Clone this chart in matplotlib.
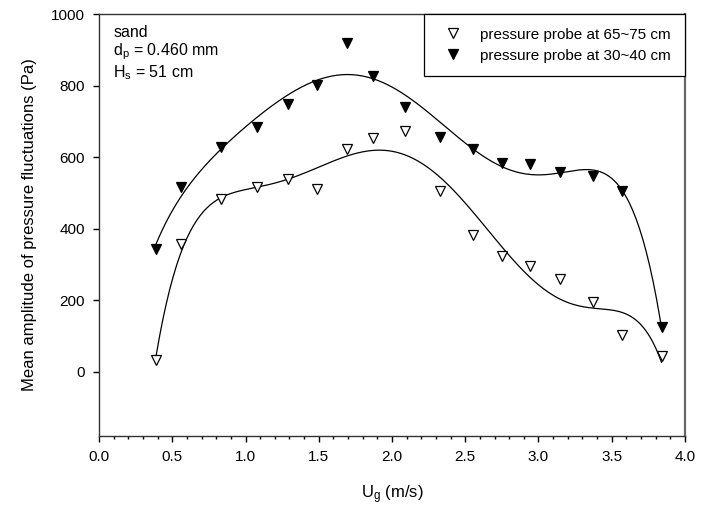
import numpy as np
import matplotlib.pyplot as plt
from matplotlib.ticker import MultipleLocator

plt.rcParams['font.family'] = ['Liberation Sans', 'DejaVu Sans']
plt.rcParams['mathtext.fontset'] = 'custom'
plt.rcParams['mathtext.rm'] = 'Liberation Sans'
plt.rcParams['mathtext.it'] = 'Liberation Sans:italic'

# gas velocity (m/s)
ug = [0.39, 0.56, 0.83, 1.08, 1.29, 1.49, 1.69, 1.87, 2.09, 2.33,
      2.55, 2.75, 2.94, 3.15, 3.37, 3.57, 3.84]
# mean amplitude (Pa), probe at 65~75 cm
amp_high = [33, 356, 483, 516, 538, 511, 623, 653, 674, 505,
            382, 322, 294, 258, 196, 103, 44]
# mean amplitude (Pa), probe at 30~40 cm
amp_low = [343, 517, 627, 685, 748, 801, 919, 827, 740, 657,
           623, 583, 581, 557, 548, 505, 126]

fit_deg = 6

def poly_curve(x, y, deg):
    c = np.polyfit(x, y, deg)
    xs = np.linspace(min(x), max(x), 300)
    return xs, np.polyval(c, xs)

fig = plt.figure(figsize=(7.13, 5.15), dpi=100)
ax = fig.add_axes([0.1389, 0.1534, 0.8218, 0.8194])

for y in (amp_high, amp_low):
    xs, ys = poly_curve(ug, y, fit_deg)
    ax.plot(xs, ys, color='black', lw=0.9, zorder=2)

ax.plot(ug, amp_high, linestyle='none', marker='v', ms=7.5, mfc='white', mec='black', mew=0.9,
        label='pressure probe at 65~75 cm', zorder=3)
ax.plot(ug, amp_low, linestyle='none', marker='v', ms=7.5, mfc='black', mec='black', mew=0.9,
        label='pressure probe at 30~40 cm', zorder=3)

ax.set_xlim(0, 4)
ax.set_ylim(-180, 1000)
ax.xaxis.set_major_locator(MultipleLocator(0.5))
ax.xaxis.set_minor_locator(MultipleLocator(0.1))
ax.set_yticks([0, 200, 400, 600, 800, 1000])
ax.tick_params(axis='both', which='major', direction='out', length=4, width=1, labelsize=11, pad=6)
ax.tick_params(axis='x', which='minor', direction='out', length=2.5, width=1)
ax.tick_params(top=False, right=False)
ax.xaxis.set_major_formatter(plt.FormatStrFormatter('%.1f'))
for s in ax.spines.values():
    s.set_color('#333333')
    s.set_linewidth(1)
ax.spines['right'].set_color('#666666')
ax.spines['right'].set_linewidth(1.6)

ax.set_xlabel('U$_\\mathrm{g}$ (m/s)', fontsize=12, labelpad=14)
ax.set_ylabel('Mean amplitude of pressure fluctuations (Pa)', fontsize=12, labelpad=10)

ax.text(0.024, 0.957, 'sand', transform=ax.transAxes, fontsize=11.5, va='center')
ax.text(0.024, 0.910, 'd$_\\mathrm{p}$ = 0.460 mm', transform=ax.transAxes, fontsize=11.5, va='center')
ax.text(0.024, 0.860, 'H$_\\mathrm{s}$ = 51 cm', transform=ax.transAxes, fontsize=11.5, va='center')

leg = ax.legend(loc='upper right', bbox_to_anchor=(1, 1), borderaxespad=0, fontsize=11,
                numpoints=1, fancybox=False, framealpha=1, edgecolor='black',
                handletextpad=0.8, borderpad=0.9, labelspacing=0.45)
leg.get_frame().set_linewidth(0.9)

fig.savefig('out.png', dpi=100)
